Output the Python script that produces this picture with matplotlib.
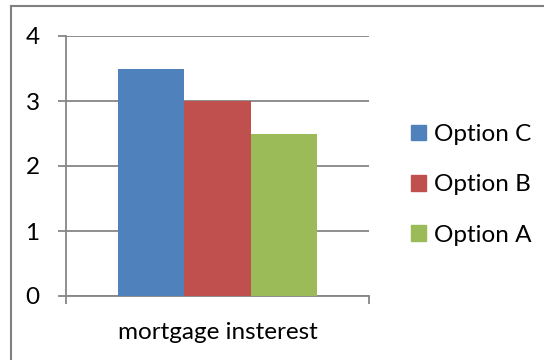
import matplotlib
matplotlib.use("Agg")
import matplotlib.pyplot as plt
from matplotlib.patches import Rectangle
from matplotlib.lines import Line2D

category = "mortgage insterest"
series_names = ["Option C", "Option B", "Option A"]
values = [3.5, 3.0, 2.5]
colors = ["#4F81BD", "#C0504D", "#9BBB59"]
yticks = [0, 1, 2, 3, 4]

plt.rcParams['font.family'] = ['Lato', 'DejaVu Sans']
FS = 17.5

fig = plt.figure(figsize=(5.44, 3.6), dpi=100)
ax = fig.add_axes([66/544, 1-296/360, (369-66)/544, (296-36)/360])

w = 0.219
offsets = [-w, 0, w]
for name, v, c, o in zip(series_names, values, colors, offsets):
    ax.bar(o, v, width=w, color=c, label=name, zorder=3)

grid = "#868686"
ax.set_xlim(-0.5, 0.5)
ax.set_ylim(0, 4)
ax.set_yticks(yticks)
ax.set_yticklabels([str(t) for t in yticks], fontsize=FS)
ax.yaxis.grid(True, color=grid, linewidth=1.3, zorder=0)
ax.tick_params(axis='y', length=6, width=1.3, color=grid, pad=13)
ax.set_xticks([0])
ax.set_xticklabels([category], fontsize=FS)
ax.tick_params(axis='x', which='major', length=0, pad=19)
ax.set_xticks([-0.5, 0.5], minor=True)
ax.tick_params(axis='x', which='minor', length=6, width=1.3, color=grid)
for s in ['top', 'right']:
    ax.spines[s].set_visible(False)
for s in ['left', 'bottom']:
    ax.spines[s].set_color(grid)
    ax.spines[s].set_linewidth(1.3)

handles = [Rectangle((0, 0), 1, 1, color=c) for c in colors]
fig.legend(handles, series_names, loc='center left',
           bbox_to_anchor=(411/544, 1-185/360), frameon=False,
           fontsize=FS, handlelength=0.6, handleheight=0.6,
           handletextpad=0.35, labelspacing=1.2, borderaxespad=0,
           borderpad=0)

# outer chart border (top and left visible)
fig.add_artist(Line2D([11/544, 1.0], [1-6/360, 1-6/360], color="#808080", lw=1.5, transform=fig.transFigure))
fig.add_artist(Line2D([11/544, 11/544], [0, 1-6/360], color="#808080", lw=1.5, transform=fig.transFigure))

fig.savefig("out.png", dpi=100)
